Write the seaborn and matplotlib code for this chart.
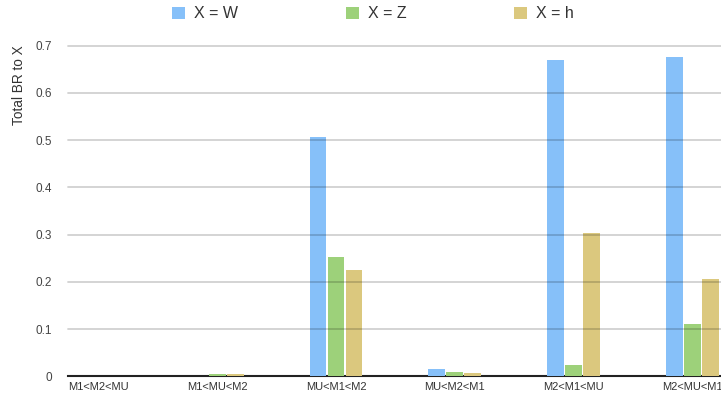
import matplotlib
matplotlib.use("Agg")
import matplotlib.pyplot as plt
import seaborn as sns
import pandas as pd
from matplotlib.patches import Patch

# Mass orderings on the x axis
orderings = ["M1<M2<MU", "M1<MU<M2", "MU<M1<M2", "MU<M2<M1", "M2<M1<MU", "M2<MU<M1"]
series_names = ["X = W", "X = Z", "X = h"]

# Total branching ratio into each boson, per mass ordering
br_w = [0.0, 0.0, 0.506, 0.016, 0.670, 0.675]
br_z = [0.0, 0.004, 0.252, 0.0095, 0.024, 0.111]
br_h = [0.0, 0.004, 0.226, 0.0074, 0.303, 0.206]

yticks = [0, 0.1, 0.2, 0.3, 0.4, 0.5, 0.6, 0.7]
ytick_labels = ["0", "0.1", "0.2", "0.3", "0.4", "0.5", "0.6", "0.7"]

colors = ["#86C0F9", "#9DD17A", "#DBC87E"]

df = pd.DataFrame({
    "ordering": orderings * 3,
    "br": br_w + br_z + br_h,
    "X": [s for s in series_names for _ in orderings],
})

sns.set_theme(style="white")
plt.rcParams["font.family"] = ["Liberation Sans", "DejaVu Sans"]

W, H = 721, 400
fig = plt.figure(figsize=(W / 100, H / 100), dpi=100)
ax = fig.add_axes([68 / W, (H - 376.3) / H, (W - 68) / W, 333 / H])

sns.barplot(
    data=df, x="ordering", y="br", hue="X", order=orderings,
    hue_order=series_names, palette=colors, width=0.4545, gap=0.06,
    saturation=1, linewidth=0, errorbar=None, legend=False, ax=ax, zorder=2,
)

ax.set_xlim(-0.256, 5.241)
ax.set_ylim(0, 0.705)

# light horizontal gridlines drawn over the bars
for y in yticks[1:]:
    ax.axhline(y, color="black", alpha=0.18, lw=1.3, zorder=3, clip_on=False)

for side in ["top", "right", "left"]:
    ax.spines[side].set_visible(False)
ax.spines["bottom"].set_color("#222222")
ax.spines["bottom"].set_linewidth(1.5)
ax.spines["bottom"].set_zorder(1.5)

ax.set_yticks(yticks)
ax.set_yticklabels(ytick_labels)
ax.tick_params(axis="y", length=0, pad=11.5, labelsize=8.5, labelcolor="#444444")
ax.tick_params(axis="x", length=0, pad=4, labelsize=8, labelcolor="#333333")
ax.set_xlabel("")
ax.set_ylabel("")

fig.text(19 / W, 1 - 45 / H, "Total BR to X", rotation=90, ha="center", va="top",
         fontsize=9.8, color="#333333")

handles = [Patch(facecolor=c, edgecolor="none") for c in colors]
fig.legend(
    handles, series_names, loc="center", bbox_to_anchor=(373 / W, 1 - 14 / H),
    ncol=3, frameon=False, fontsize=11.5, handlelength=0.81, handleheight=0.75,
    handletextpad=0.56, columnspacing=6.75, borderpad=0, labelcolor="#333333",
)

fig.savefig("out.png", dpi=100)
